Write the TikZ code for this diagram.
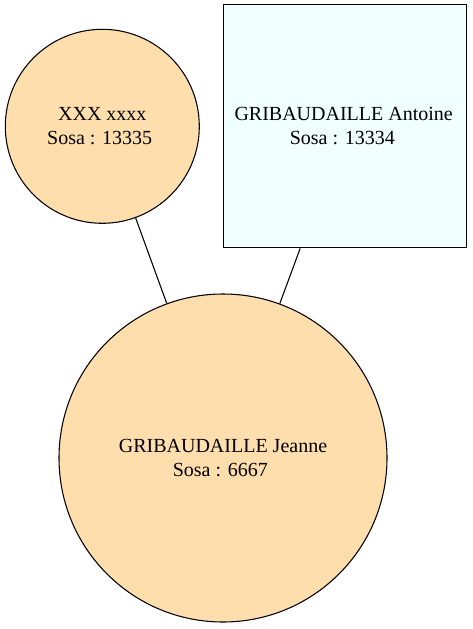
\documentclass[tikz,border=0pt]{standalone}
\usepackage{fontspec}
\setmainfont{Liberation Serif}
\definecolor{navajo}{HTML}{FFDEAD}
\definecolor{azurefill}{HTML}{F0FFFF}
\begin{document}
\begin{tikzpicture}[x=0.75pt,y=-0.75pt,
  every node/.style={font=\fontsize{15}{18}\selectfont, align=center, inner sep=0pt, line width=0.8pt},
  person/.style={circle, draw=black, fill=navajo},
  personbox/.style={rectangle, draw=black, fill=azurefill, minimum width=182.25pt, minimum height=182.25pt},
  link/.style={draw=black, line width=0.8pt}]
\useasboundingbox (0,0) rectangle (472,629);
\node[person, minimum size=145.5pt] (x) at (102.3,126.3) {XXX xxxx\\Sosa : 13335\hspace*{4pt}};
\node[personbox] (a) at (345,126.3) {GRIBAUDAILLE Antoine\hspace*{2pt}\\Sosa : 13334\hspace*{4pt}};
\node[person, minimum size=246pt] (j) at (223,458) {GRIBAUDAILLE Jeanne\\Sosa : 6667\hspace*{4pt}};
\draw[link] (x) -- (j);
\draw[link] (a) -- (j);
\end{tikzpicture}
\end{document}
